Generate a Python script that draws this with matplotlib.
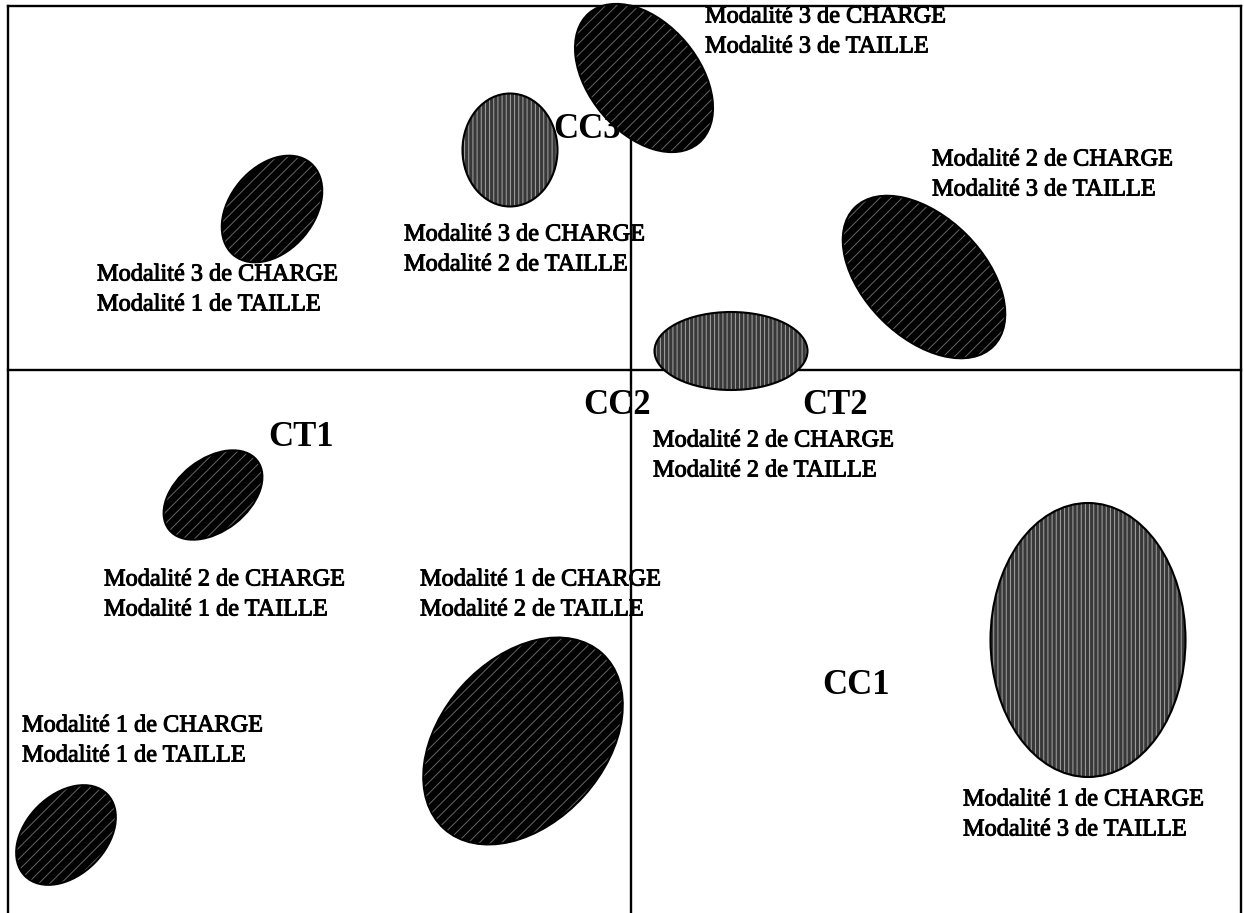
import matplotlib.pyplot as plt
import matplotlib.patheffects as pe
from matplotlib.patches import Ellipse

# ellipses on the factorial plane (pixel-like coordinates, y going down)
ell_x = [272, 510, 644, 924, 731, 213, 523, 1088, 66]
ell_y = [209, 150, 78, 277, 351, 495, 741, 640, 835]
ell_w = [120, 95, 170, 196, 153, 112, 236, 195, 116]
ell_h = [84, 113, 110, 120, 78, 72, 164, 274, 80]
ell_angle = [-50, 0, 50, 45, 0, -38, -48, 0, -45]
ell_kind = ['dark', 'gray', 'dark', 'dark', 'gray', 'dark', 'dark', 'gray', 'dark']

# labels "Modalité i de CHARGE / Modalité j de TAILLE"
lab_charge = [3, 2, 3, 3, 2, 2, 1, 1, 1]
lab_taille = [3, 3, 2, 1, 2, 1, 2, 1, 3]
lab_x = [705, 932, 404, 97, 653, 104, 420, 22, 963]
lab_y = [17, 160, 235, 275, 441, 580, 580, 726, 800]

# bold axis labels
axis_names = ['CC3', 'CC2', 'CT2', 'CT1', 'CC1', 'CT3']
axis_x = [553, 583, 802, 268, 822, 880]
axis_y = [130, 405, 405, 437, 685, 282]

plt.rcParams['hatch.linewidth'] = 0.7

fig = plt.figure(figsize=(12.44, 9.13), dpi=100)
ax = fig.add_axes([0, 0, 1, 1])
ax.set_xlim(0, 1244)
ax.set_ylim(913, 0)
ax.axis('off')

# frame and the two axes
lw = 1.7
ax.plot([8, 1241], [6, 6], color='black', lw=lw)
ax.plot([8, 8], [6, 913], color='black', lw=lw)
ax.plot([1241, 1241], [6, 913], color='black', lw=lw)
ax.plot([8, 1241], [370, 370], color='black', lw=lw)
ax.plot([631, 631], [6, 913], color='black', lw=lw)

# bold names (CC3 sits under its ellipse, CT3 is hidden inside one)
for name, x, y in zip(axis_names, axis_x, axis_y):
    ax.text(x, y, name, fontsize=25, fontweight='bold', family='Liberation Serif',
            va='center', ha='left', zorder=2)

for x, y, w, h, a, kind in zip(ell_x, ell_y, ell_w, ell_h, ell_angle, ell_kind):
    if kind == 'dark':
        face, hatch, hcol = 'black', '///', (1, 1, 1, 0.4)
    else:
        face, hatch, hcol = '#383838', '||||', (1, 1, 1, 0.55)
    ax.add_patch(Ellipse((x, y), w, h, angle=a, facecolor=face, edgecolor='none', zorder=3))
    ax.add_patch(Ellipse((x, y), w, h, angle=a, facecolor='none', edgecolor=hcol,
                         hatch=hatch, lw=0, zorder=4))
    ax.add_patch(Ellipse((x, y), w, h, angle=a, facecolor='none', edgecolor='black',
                         lw=1.5, zorder=5))

# scanned text looks a bit heavier than plain Times
heavy = [pe.withStroke(linewidth=0.7, foreground='black')]
for c, t, x, y in zip(lab_charge, lab_taille, lab_x, lab_y):
    ax.text(x, y, f'Modalité {c} de CHARGE', fontsize=17.5, family='Liberation Serif',
            va='center', ha='left', zorder=6, path_effects=heavy)
    ax.text(x, y + 30, f'Modalité {t} de TAILLE', fontsize=17.5, family='Liberation Serif',
            va='center', ha='left', zorder=6, path_effects=heavy)

fig.savefig('out.png', dpi=100)
